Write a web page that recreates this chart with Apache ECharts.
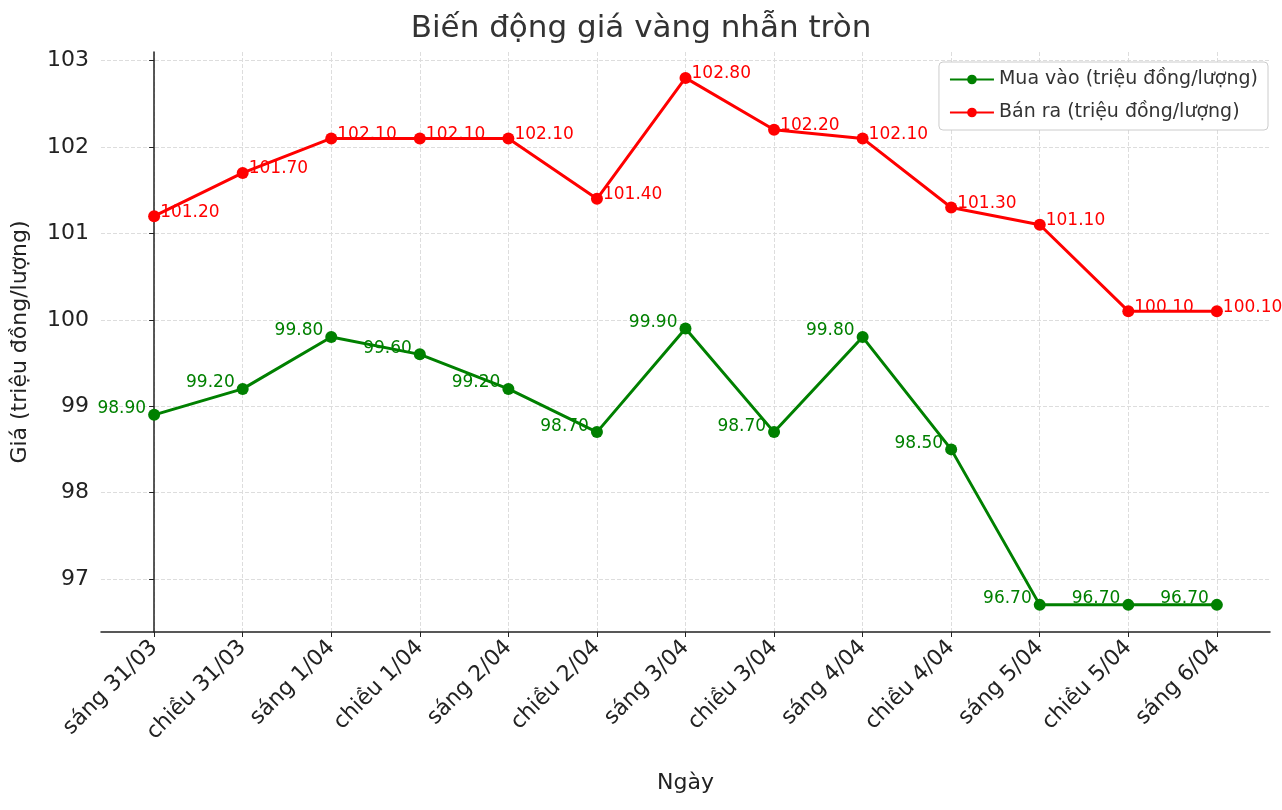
<!DOCTYPE html>
<html><head><meta charset="utf-8">
<script src="https://cdn.jsdelivr.net/npm/echarts@6/dist/echarts.min.js"></script>
<style>html,body{margin:0;padding:0;background:#fff}#c{width:1282px;height:810px}</style>
</head><body><div id="c"></div>
<script>
const categories=['sáng 31/03','chiều 31/03','sáng 1/04','chiều 1/04','sáng 2/04','chiều 2/04','sáng 3/04','chiều 3/04','sáng 4/04','chiều 4/04','sáng 5/04','chiều 5/04','sáng 6/04'];
const buy=[98.9,99.2,99.8,99.6,99.2,98.7,99.9,98.7,99.8,98.5,96.7,96.7,96.7];
const sell=[101.2,101.7,102.1,102.1,102.1,101.4,102.8,102.2,102.1,101.3,101.1,100.1,100.1];
const yTicks=[97,98,99,100,101,102,103];
const xTicks=categories.map((c,i)=>i);
const font='DejaVu Sans';
const chart=echarts.init(document.getElementById('c'));
chart.setOption({
  animation:false,
  textStyle:{fontFamily:font},
  title:{text:'Biến động giá vàng nhẫn tròn',left:'center',top:8,textStyle:{fontFamily:font,fontSize:31,fontWeight:'normal',color:'#333'}},
  grid:{left:101,right:12,top:52,bottom:178},
  legend:{top:62,right:14,orient:'vertical',itemWidth:44,itemHeight:12,itemGap:14,padding:[8,10],borderColor:'#ccc',borderWidth:1,borderRadius:4,backgroundColor:'#fff',textStyle:{fontFamily:font,fontSize:19,color:'#333'},data:['Mua vào (triệu đồng/lượng)','Bán ra (triệu đồng/lượng)']},
  xAxis:{type:'value',min:-0.6,max:12.6,name:'Ngày',nameLocation:'middle',nameGap:140,nameTextStyle:{fontFamily:font,fontSize:22,color:'#222'},
    axisLine:{lineStyle:{color:'#222',width:1.5}},axisTick:{customValues:xTicks,lineStyle:{color:'#222'}},
    axisLabel:{customValues:xTicks,rotate:45,fontSize:22,color:'#222',margin:12,formatter:v=>categories[Math.round(v)]},
    splitLine:{show:true,lineStyle:{type:'dashed',color:'#ddd'}}},
  yAxis:{type:'value',min:96.386,max:103.1,name:'Giá (triệu đồng/lượng)',nameLocation:'middle',nameGap:70,nameTextStyle:{fontFamily:font,fontSize:22,color:'#222'},
    axisLine:{show:true,lineStyle:{color:'#222',width:1.5}},
    axisTick:{show:true,customValues:yTicks,lineStyle:{color:'#222'}},
    axisLabel:{customValues:yTicks,fontSize:22,color:'#222',margin:12},
    splitLine:{show:true,lineStyle:{type:'dashed',color:'#ddd'}}},
  series:[
    {name:'Mua vào (triệu đồng/lượng)',type:'line',data:buy.map((v,i)=>[i,v]),color:'#008000',symbol:'circle',symbolSize:12,lineStyle:{width:3},
     label:{show:true,position:'left',distance:2,offset:[0,-6],fontSize:17,color:'#008000',formatter:p=>p.value[1].toFixed(2)}},
    {name:'Bán ra (triệu đồng/lượng)',type:'line',data:sell.map((v,i)=>[i,v]),color:'#ff0000',symbol:'circle',symbolSize:12,lineStyle:{width:3},
     label:{show:true,position:'right',distance:0,offset:[0,-4],fontSize:17,color:'#ff0000',formatter:p=>p.value[1].toFixed(2)}}
  ]
});
</script></body></html>
